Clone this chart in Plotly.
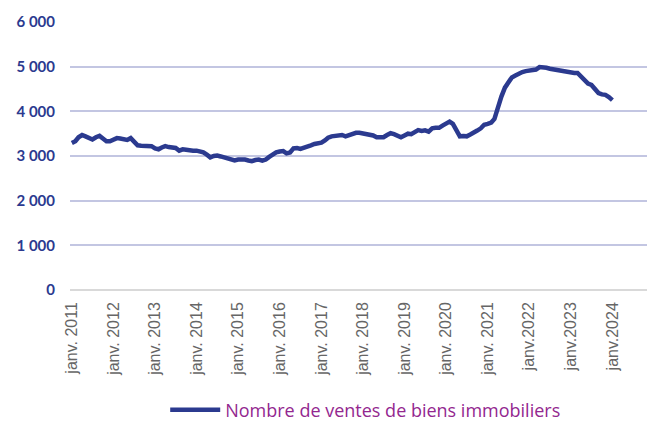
import plotly.graph_objects as go
import pandas as pd

# Monthly series, Jan 2011 -> Jan 2024
start_month = "2011-01-01"
ventes_2011 = [3290, 3330, 3420, 3470, 3440, 3390, 3370, 3420, 3450, 3390, 3330, 3330]
ventes_2012 = [3370, 3400, 3390, 3370, 3360, 3400, 3330, 3240, 3230, 3230, 3230, 3220]
ventes_2013 = [3170, 3150, 3190, 3220, 3200, 3190, 3180, 3120, 3150, 3140, 3120, 3120]
ventes_2014 = [3120, 3100, 3080, 3030, 2970, 3000, 3010, 2990, 2970, 2940, 2920, 2900]
ventes_2015 = [2920, 2930, 2920, 2900, 2885, 2910, 2920, 2895, 2920, 2980, 3040, 3080]
ventes_2016 = [3100, 3110, 3060, 3080, 3170, 3180, 3160, 3180, 3210, 3240, 3270, 3290]
ventes_2017 = [3300, 3350, 3410, 3440, 3450, 3460, 3470, 3440, 3470, 3500, 3520, 3520]
ventes_2018 = [3510, 3490, 3470, 3460, 3420, 3415, 3420, 3470, 3510, 3490, 3440, 3420]
ventes_2019 = [3460, 3500, 3490, 3530, 3580, 3560, 3575, 3545, 3620, 3630, 3630, 3680]
ventes_2020 = [3740, 3770, 3720, 3560, 3440, 3450, 3440, 3480, 3540, 3570, 3620, 3700]
ventes_2021 = [3720, 3750, 3830, 4100, 4330, 4530, 4660, 4760, 4800, 4850, 4880, 4900]
ventes_2022 = [4910, 4925, 4935, 4990, 4995, 4975, 4955, 4940, 4925, 4915, 4880, 4865]
ventes_2023 = [4860, 4860, 4860, 4780, 4690, 4620, 4590, 4480, 4410, 4380, 4370, 4320]
ventes_2024 = [4250]

ventes = (ventes_2011 + ventes_2012 + ventes_2013 + ventes_2014 + ventes_2015
          + ventes_2016 + ventes_2017 + ventes_2018 + ventes_2019 + ventes_2020
          + ventes_2021 + ventes_2022 + ventes_2023 + ventes_2024)
mois = pd.date_range(start_month, periods=len(ventes), freq="MS")

x_tick_dates = [f"{y}-01-01" for y in range(2011, 2025)]
x_tick_labels = ["janv. 2011", "janv. 2012", "janv. 2013", "janv. 2014", "janv. 2015",
                 "janv. 2016", "janv. 2017", "janv. 2018", "janv. 2019", "janv. 2020",
                 "janv. 2021", "janv.2022", "janv.2023", "janv.2024"]
y_tick_vals = [0, 1000, 2000, 3000, 4000, 5000, 6000]
y_tick_labels = ["0", "1 000", "2 000", "3 000", "4 000", "5 000", "6 000"]

series_name = "Nombre de ventes de biens immobiliers"

navy = "#2b3a8f"

fig = go.Figure()
fig.add_trace(go.Scatter(
    x=mois, y=ventes, mode="lines", name=series_name,
    line=dict(color=navy, width=4.5, shape="linear"),
    hoverinfo="skip",
))

fig.update_layout(
    width=647, height=422,
    margin=dict(l=70, r=0, t=22, b=132, autoexpand=False),
    paper_bgcolor="white", plot_bgcolor="white",
    showlegend=True,
    legend=dict(
        orientation="h", x=0.165, xanchor="left",
        y=-0.448, yanchor="middle",
        font=dict(family="Open Sans", size=18, color="#93278f"),
        itemwidth=50, bgcolor="rgba(0,0,0,0)",
    ),
    xaxis=dict(
        type="date", automargin=False,
        range=["2010-12-16", "2024-10-31"],
        tickmode="array", tickvals=x_tick_dates, ticktext=x_tick_labels,
        tickangle=-90,
        tickfont=dict(family="Liberation Sans", size=16, color="#666666"),
        showgrid=False, zeroline=False, showline=False,
        ticks="", ticklabelstandoff=8,
    ),
    yaxis=dict(
        range=[0, 6000], automargin=False,
        tickmode="array", tickvals=y_tick_vals, ticktext=y_tick_labels,
        tickfont=dict(family="Lato", size=15, color=navy, weight="bold"),
        showgrid=True, gridcolor="#c3c6e2", gridwidth=1.5,
        zeroline=True, zerolinecolor="#d9d9d9", zerolinewidth=1.5,
        showline=False, ticks="", ticklabelstandoff=14,
    ),
)

fig.write_html(
    "out.html",
    config={"displayModeBar": False},
    post_script="document.body.style.margin='0';document.body.style.overflow='hidden';",
)
